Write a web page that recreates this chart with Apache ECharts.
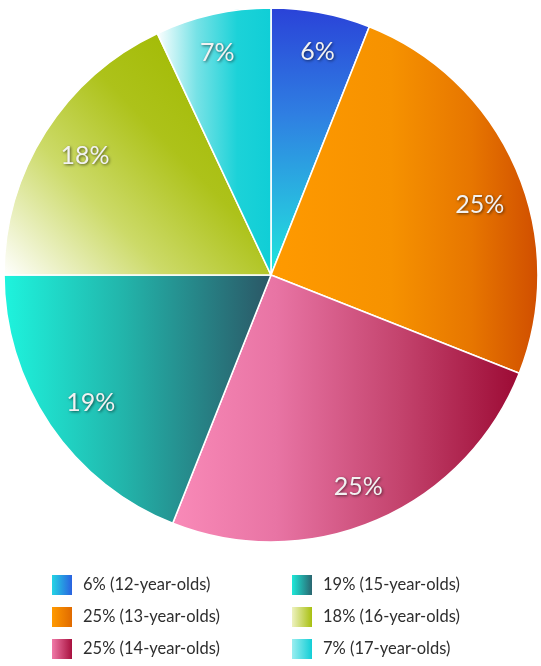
<!DOCTYPE html>
<html>
<head>
<meta charset="utf-8">
<title>Age distribution</title>
<script src="https://cdn.jsdelivr.net/npm/echarts@6/dist/echarts.min.js"></script>
<style>
  html, body { margin: 0; padding: 0; background: #ffffff; }
  #chart { width: 541px; height: 666px; }
</style>
</head>
<body>
<div id="chart"></div>
<script>
// Share of respondents by age group (percent)
const ageGroups = ['12-year-olds', '13-year-olds', '14-year-olds', '15-year-olds', '16-year-olds', '17-year-olds'];
const shares = [6, 25, 25, 19, 18, 7];

const names = ageGroups.map((g, i) => shares[i] + '% (' + g + ')');

// Small nudges for the percentage labels inside the slices
const labelNudge = [[4, 0], [0, 20], [-3, 3], [8, 0], [6, 3], [-4, 0]];

function lin(x, y, x2, y2, stops) {
  return new echarts.graphic.LinearGradient(x, y, x2, y2,
    stops.map(s => ({ offset: s[0], color: s[1] })));
}

// Fills for the slices
const sliceFills = [
  lin(0, 0, 0, 1, [[0, '#2a42d8'], [0.4, '#2f7fe2'], [0.75, '#28bce0'], [1, '#1ee8dc']]),
  lin(0, 0, 1, 0, [[0, '#ff9a00'], [0.45, '#f69200'], [0.75, '#e77600'], [1, '#d04e00']]),
  lin(0, 0, 1, 0, [[0, '#f98ab8'], [0.3, '#e874a4'], [0.65, '#c4446e'], [1, '#9c0a34']]),
  lin(0, 0, 1, 0, [[0, '#1ef4de'], [0.45, '#22b4aa'], [1, '#2b5665']]),
  lin(0, 1, 0.75, 0.2, [[0, '#ffffff'], [0.42, '#ccda68'], [0.75, '#adc21a'], [1, '#a4bc08']]),
  lin(0, 0, 1, 0, [[0, '#ffffff'], [0.35, '#76e2e6'], [0.7, '#1cd2d8'], [1, '#10ced6']])
];

// Fills for the legend swatches
const swatchFills = [
  lin(0, 0, 1, 0, [[0, '#24d4e4'], [1, '#2a62e0']]),
  lin(0, 0, 1, 0, [[0, '#ff9a00'], [1, '#e06a00']]),
  lin(0, 0, 1, 0, [[0, '#f07aa8'], [1, '#a8103e']]),
  lin(0, 0, 1, 0, [[0, '#1ee8d8'], [1, '#2a6670']]),
  lin(0, 0, 1, 0, [[0, '#eef2c0'], [1, '#a8c010']]),
  lin(0, 0, 1, 0, [[0, '#9aeef0'], [1, '#12ced6']])
];

const pieData = names.map((n, i) => ({ name: n, value: shares[i], itemStyle: { color: sliceFills[i] } }));
const labelData = names.map((n, i) => ({ name: n, value: shares[i], label: { offset: labelNudge[i] } }));

function legendBlock(idx, left) {
  return {
    orient: 'vertical',
    left: left,
    top: 575,
    padding: 0,
    itemWidth: 20,
    itemHeight: 20,
    itemGap: 12,
    icon: 'rect',
    selectedMode: false,
    textStyle: {
      fontFamily: 'Lato, sans-serif',
      fontSize: 16.5,
      color: '#2e2e2e',
      padding: [8, 0, 0, 6]
    },
    data: idx.map(i => ({ name: names[i], itemStyle: { color: swatchFills[i], borderWidth: 0 } }))
  };
}

const chart = echarts.init(document.getElementById('chart'), null, { renderer: 'canvas' });
chart.setOption({
  animation: false,
  backgroundColor: '#ffffff',
  legend: [legendBlock([0, 1, 2], 52), legendBlock([3, 4, 5], 292)],
  series: [
    {
      type: 'pie',
      center: [271, 275],
      radius: 267,
      startAngle: 90,
      clockwise: true,
      label: { show: false },
      labelLine: { show: false },
      emphasis: { disabled: true },
      itemStyle: { borderColor: '#ffffff', borderWidth: 1.6 },
      data: pieData
    },
    {
      type: 'pie',
      center: [271, 275],
      radius: [182, 267],
      startAngle: 90,
      clockwise: true,
      silent: true,
      z: 3,
      emphasis: { disabled: true },
      itemStyle: { color: 'rgba(0,0,0,0)', borderWidth: 0 },
      labelLine: { show: false },
      label: {
        show: true,
        position: 'inside',
        formatter: '{c}%',
        fontFamily: 'Lato, sans-serif',
        fontSize: 25,
        color: '#f2f2f2',
        textShadowColor: 'rgba(0,0,0,0.6)',
        textShadowBlur: 3,
        textShadowOffsetX: 1,
        textShadowOffsetY: 1
      },
      data: labelData
    }
  ]
});
</script>
</body>
</html>
